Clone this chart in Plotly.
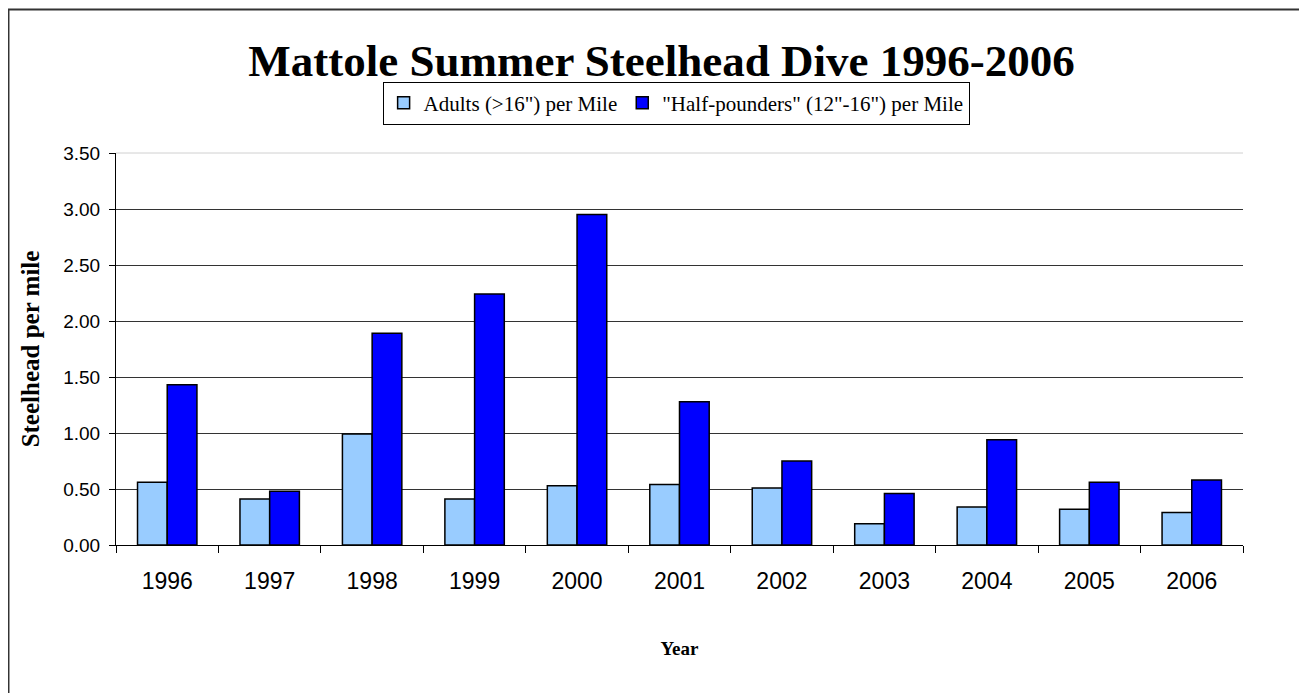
import pandas as pd
import plotly.graph_objects as go

# Data
years = ["1996", "1997", "1998", "1999", "2000", "2001", "2002", "2003", "2004", "2005", "2006"]
adults_per_mile = [0.56, 0.41, 0.99, 0.41, 0.53, 0.54, 0.51, 0.19, 0.34, 0.32, 0.29]
half_pounders_per_mile = [1.43, 0.48, 1.89, 2.24, 2.95, 1.28, 0.75, 0.46, 0.94, 0.56, 0.58]
y_tick_values = [0.0, 0.5, 1.0, 1.5, 2.0, 2.5, 3.0, 3.5]

series_names = ['Adults (>16") per Mile', '"Half-pounders" (12"-16") per Mile']
series_colors = ["#99CCFF", "#0000FF"]

SERIF = "Liberation Serif, Times New Roman, serif"
SANS = "Liberation Sans, Arial, sans-serif"


def build_df():
    """
    Small table with one column per series
    """
    df = pd.DataFrame(
        {
            "Year": years,
            series_names[0]: adults_per_mile,
            series_names[1]: half_pounders_per_mile,
        }
    )
    return df


def bar_chart(df):
    """
    Grouped bars, one trace per series
    """
    fig = go.Figure()
    for name, color in zip(series_names, series_colors):
        fig.add_trace(
            go.Bar(
                x=df["Year"],
                y=df[name],
                name=name,
                marker=dict(color=color, line=dict(color="black", width=1.5)),
            )
        )
    return fig


def set_layout(fig):
    """
    Excel-like layout
    """
    # page body has an 8px margin, so the margins are shifted by that
    fig.update_layout(
        width=1307,
        height=693,
        margin=dict(l=108, r=72, t=145, b=156),
        paper_bgcolor="white",
        plot_bgcolor="white",
        barmode="group",
        bargap=0.42,
        bargroupgap=0,
        title=dict(
            text="<b>Mattole Summer Steelhead Dive 1996-2006</b>",
            font=dict(family=SERIF, size=45, color="black"),
            x=0.5,
            xanchor="center",
            y=0.925,
            yanchor="middle",
        ),
        legend=dict(
            orientation="h",
            x=0.497,
            xanchor="center",
            y=1.182,
            yanchor="top",
            bordercolor="black",
            borderwidth=1,
            bgcolor="white",
            font=dict(family=SERIF, size=21, color="black"),
            traceorder="normal",
        ),
        showlegend=True,
    )

    fig.update_xaxes(
        type="category",
        showline=True,
        linecolor="black",
        linewidth=1,
        ticks="outside",
        tickson="boundaries",
        ticklen=7,
        tickcolor="black",
        ticklabelstandoff=15,
        tickfont=dict(family=SANS, size=23, color="black"),
        title=dict(text="<b>Year</b>", font=dict(family=SERIF, size=19, color="black"), standoff=49),
        showgrid=False,
    )
    fig.update_yaxes(
        range=[0, 3.5],
        tickvals=y_tick_values,
        tickformat=".2f",
        showline=True,
        linecolor="black",
        linewidth=1,
        ticks="outside",
        ticklen=6,
        tickcolor="black",
        ticklabelstandoff=5,
        tickfont=dict(family=SANS, size=19, color="black"),
        showgrid=True,
        gridcolor="#333333",
        gridwidth=1,
        zeroline=False,
        title=dict(
            text="<b>Steelhead per mile</b>",
            font=dict(family=SERIF, size=25, color="black"),
            standoff=16,
        ),
    )

    # Light top gridline at 3.50, and the outer chart border
    fig.add_shape(type="line", xref="paper", yref="paper", x0=0, x1=1, y0=1, y1=1,
                  line=dict(color="#d0d0d0", width=1))
    fig.add_shape(type="rect", xref="paper", yref="paper",
                  x0=-0.0954, x1=1.07, y0=-0.40, y1=1.366,
                  line=dict(color="#333333", width=2), fillcolor="rgba(0,0,0,0)")
    return fig


fig = set_layout(bar_chart(build_df()))
fig.write_html("out.html")
